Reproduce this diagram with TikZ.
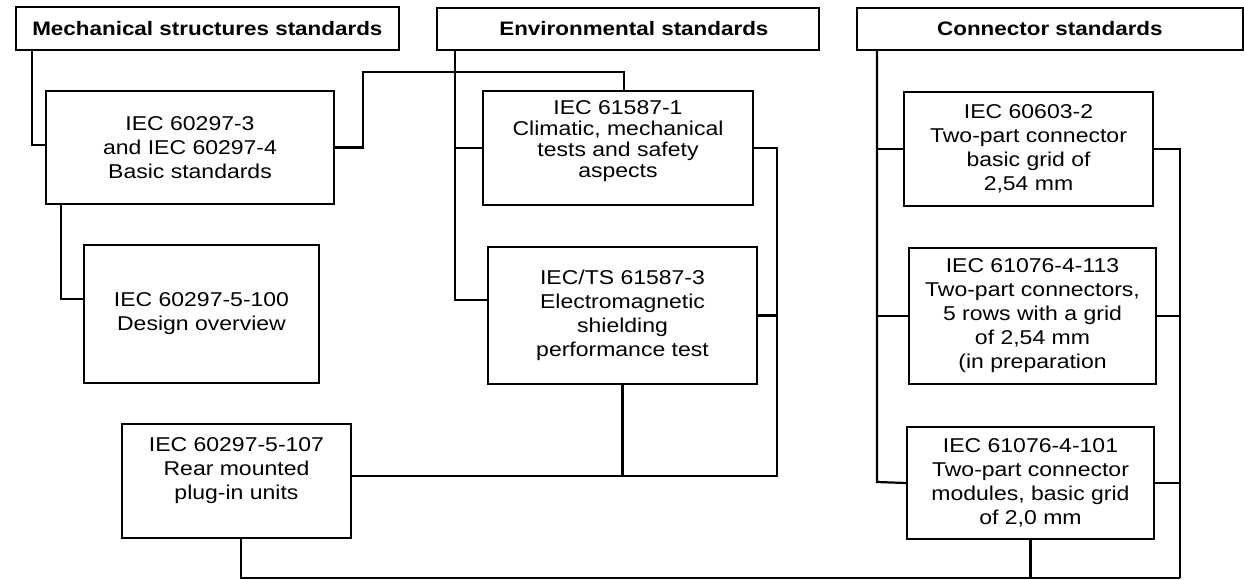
\documentclass[tikz,border=0pt]{standalone}
\usepackage{fontspec}
\setmainfont[FakeStretch=1.15]{Liberation Sans}

\begin{document}
\begin{tikzpicture}[x=1pt,y=-1pt,
  stdbox/.style={draw, line width=2pt, align=center, anchor=north west, inner sep=2pt,
    font=\fontsize{20}{24}\selectfont},
  headbox/.style={stdbox, line width=1.8pt, font=\fontsize{19.5}{23}\selectfont\bfseries},
  wire/.style={line width=2.2pt}]

\useasboundingbox (0,0) rectangle (1244,580);

% Header boxes
\node[headbox, minimum width=383, minimum height=43] (mech) at (15,6) {Mechanical structures standards};
\node[headbox, minimum width=382, minimum height=42] (env) at (436,7) {\hspace*{12pt}Environmental standards};
\node[headbox, minimum width=386, minimum height=42] (conn) at (856,7) {Connector standards};

% Mechanical structures
\node[stdbox, minimum width=288, minimum height=113] (b3) at (45,90) {IEC 60297-3\\and IEC 60297-4\\Basic standards};
\node[stdbox, minimum width=235, minimum height=138] (b100) at (83,244) {IEC 60297-5-100\\Design overview};
\node[stdbox, minimum width=229, minimum height=114, text depth=24pt] (b107) at (121,423) {IEC 60297-5-107\\Rear mounted\\plug-in units};

% Environmental
\node[stdbox, minimum width=270, minimum height=114, text depth=18pt,
  font=\fontsize{20}{21}\selectfont] (e1) at (482,90) {IEC 61587-1\\Climatic, mechanical\\tests and safety\\aspects};
\node[stdbox, minimum width=269, minimum height=137] (e3) at (487,246) {IEC/TS 61587-3\\Electromagnetic\\shielding\\performance test};

% Connectors
\node[stdbox, minimum width=249, minimum height=114] (c2) at (903,91) {IEC 60603-2\\Two-part connector\\basic grid of\\2,54 mm};
\node[stdbox, minimum width=247, minimum height=136] (c113) at (908,247) {IEC 61076-4-113\\Two-part connectors,\\5 rows with a grid\\of 2,54 mm\\(in preparation};
\node[stdbox, minimum width=247, minimum height=112] (c101) at (906,426) {IEC 61076-4-101\\Two-part connector\\modules, basic grid\\of 2,0 mm};

% Define coordinates
\coordinate (mbus) at (32,145);
\coordinate (k100) at (61,299);
\coordinate (kup) at (363,72);
\coordinate (ktop) at (624,72);
\coordinate (ebus) at (455,300);
\coordinate (rlow) at (777,476);
\coordinate (cbus) at (877,482);
\coordinate (rbus) at (1180,578);
\coordinate (kbot) at (241,578);

% Lines, mechanical
\draw[wire] (mech.south -| mbus) -- (mbus) -- (mbus -| b3.west);
\draw[wire] (b3.south -| k100) -- (k100) -- (k100 -| b100.west);
\draw[wire] (b3.east) -| (kup) -- (ktop) -- (ktop |- e1.north);

% Lines, environmental
\draw[wire] (env.south -| ebus) -- (ebus) -- (ebus -| e3.west);
\draw[wire] (ebus |- e1.west) -- (e1.west);
\draw[wire] (e1.east) -| (rlow) -- (rlow -| b107.east);
\draw[wire] (e3.east) -- (e3.east -| rlow);
\draw[wire] (e3.south) -- (e3.south |- rlow);

% Lines, connectors
\draw[wire] (conn.south -| cbus) -- (cbus) -- (c101.west);
\draw[wire] (cbus |- c113.west) -- (c113.west);
\draw[wire] (cbus |- c2.west) -- (c2.west);
\draw[wire] (c2.east) -| (rbus);
\draw[wire] (c113.east) -- (c113.east -| rbus);
\draw[wire] (c101.east) -- (c101.east -| rbus);
\draw[wire] (c101.south) -- (c101.south |- rbus);
\draw[wire] (b107.south -| kbot) -- (kbot) -- (rbus);

\end{tikzpicture}
\end{document}
